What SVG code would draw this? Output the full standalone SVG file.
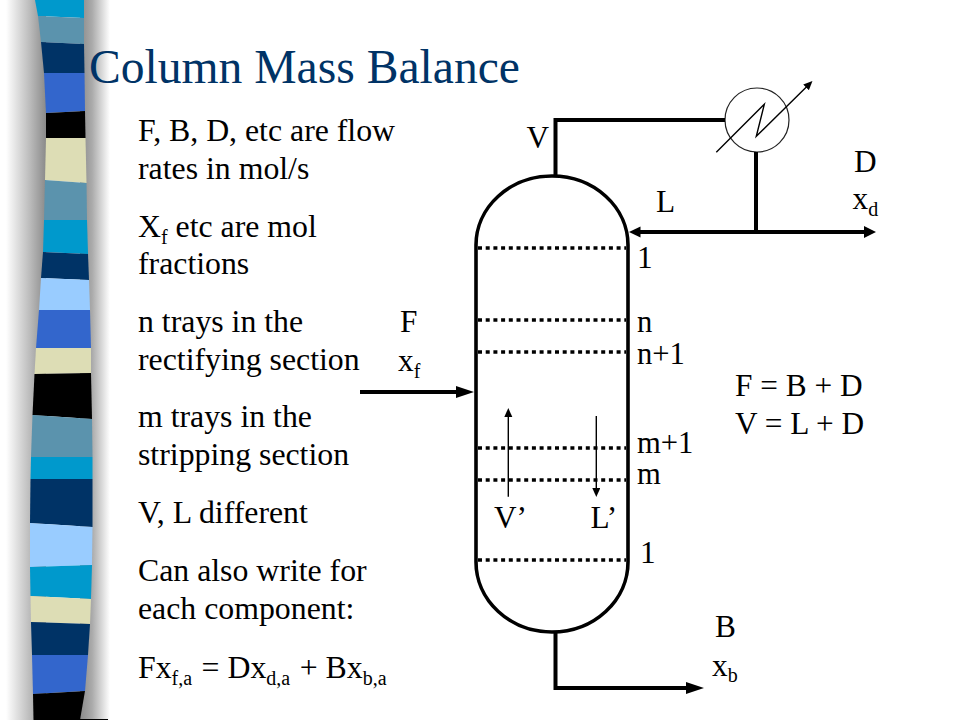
<svg xmlns="http://www.w3.org/2000/svg" width="960" height="720" viewBox="0 0 960 720">
<style>
text{font-family:"Liberation Serif","Times New Roman",serif;fill:#000;font-size:31.8px}
.title{font-size:47.6px;fill:#003366}
.lab{font-size:31.3px}
.tag{font-size:30.6px}
.sub{font-size:20px}
.pipe{fill:none;stroke:#000;stroke-width:4}
.wall{fill:none;stroke:#000;stroke-width:3.6}
.thin{fill:none;stroke:#000;stroke-width:1.4}
.tray{fill:none;stroke:#000;stroke-width:3.6;stroke-dasharray:4 3.7}
.a{fill:#5b93ad}.b{fill:#0099cc}.c{fill:#003366}.d{fill:#3366cc}.e{fill:#000}.f{fill:#ddddb5}.g{fill:#99ccff}
</style>
<defs>
<linearGradient id="shL" gradientUnits="userSpaceOnUse" x1="6" y1="0" x2="46" y2="0"><stop offset="0" stop-color="#fff"/><stop offset=".6" stop-color="#bbb"/><stop offset="1" stop-color="#8a8a8a"/></linearGradient>
<linearGradient id="shR" gradientUnits="userSpaceOnUse" x1="80" y1="0" x2="110" y2="0"><stop offset="0" stop-color="#8a8a8a"/><stop offset=".4" stop-color="#aaa"/><stop offset="1" stop-color="#fff"/></linearGradient>
<marker id="big" markerUnits="userSpaceOnUse" markerWidth="14" markerHeight="14" refX="4" refY="7" orient="auto"><path d="M0 1L12 7L0 13Z"/></marker>
<marker id="bigStart" markerUnits="userSpaceOnUse" markerWidth="14" markerHeight="14" refX="8" refY="7" orient="auto"><path d="M11.5 1.5L0 7L11.5 12.5Z"/></marker>
<marker id="feed" markerUnits="userSpaceOnUse" markerWidth="22" markerHeight="14" refX="8" refY="7" orient="auto"><path d="M0 1L18 7L0 13Z"/></marker>
<marker id="small" markerUnits="userSpaceOnUse" markerWidth="10" markerHeight="10" refX="4" refY="4" orient="auto"><path d="M0 0L9 4L0 8Z"/></marker>
</defs>
<g id="strip">
<rect x="0" y="0" width="46" height="720" fill="url(#shL)"/>
<rect x="80" y="0" width="30" height="720" fill="url(#shR)"/>
<polygon class="b" points="35,0 84,0 84,18 38,16"/>
<polygon class="a" points="38,16 84,18 84,44 41,42"/>
<polygon class="c" points="41,42 84,44 84.5,73 44,73"/>
<polygon class="d" points="44,73 84.5,73 85,111 46,113"/>
<polygon class="e" points="46,113 85,111 85.5,138 46,138"/>
<polygon class="f" points="46,138 85.5,138 86.5,183 45,180"/>
<polygon class="a" points="45,180 86.5,183 87,220 44,220"/>
<polygon class="b" points="44,220 87,220 88,254 43,252"/>
<polygon class="c" points="43,252 88,254 89,280 41,278"/>
<polygon class="g" points="41,278 89,280 90,310 39,310"/>
<polygon class="d" points="39,310 90,310 91,348 36,348"/>
<polygon class="f" points="36,348 91,348 91,373 34.5,374"/>
<polygon class="e" points="34.5,374 91,373 92,419 32.5,415"/>
<polygon class="a" points="32.5,415 92,419 92.5,457 31,457"/>
<polygon class="b" points="31,457 92.5,457 92.5,479 30.5,479"/>
<polygon class="c" points="30.5,479 92.5,479 92.5,527 30,523"/>
<polygon class="g" points="30,523 92.5,527 92,565 30,567"/>
<polygon class="b" points="30,567 92,565 91,599 30.5,596"/>
<polygon class="f" points="30.5,596 91,599 90,624 31,622"/>
<polygon class="c" points="31,622 90,624 88,655 32,655"/>
<polygon class="d" points="32,655 88,655 85,691 33,694"/>
<polygon class="e" points="33,694 85,691 80,720 33.5,720"/>
<rect x="80" y="719" width="28" height="1" fill="#000"/>
</g>
<text class="title" x="89" y="83">Column Mass Balance</text>
<g id="notes">
<text x="138" y="141">F, B, D, etc are flow</text>
<text x="138" y="178.5">rates in mol/s</text>
<text x="138" y="236.5">X<tspan class="sub" dy="7">f</tspan><tspan dy="-7"> etc are mol</tspan></text>
<text x="138" y="274">fractions</text>
<text x="138" y="332">n trays in the</text>
<text x="138" y="370">rectifying section</text>
<text x="138" y="427">m trays in the</text>
<text x="138" y="465">stripping section</text>
<text x="138" y="523">V, L different</text>
<text x="138" y="581">Can also write for</text>
<text x="138" y="619">each component:</text>
<text x="138" y="678">Fx<tspan class="sub" dy="7">f,a</tspan><tspan dy="-7" dx="1.5"> = Dx</tspan><tspan class="sub" dy="7">d,a</tspan><tspan dy="-7" dx="1.5"> + Bx</tspan><tspan class="sub" dy="7">b,a</tspan></text>
</g>
<g id="column">
<path class="wall" d="M476 245A76 69 0 0 1 628 245V562A76 70 0 0 1 476 562Z"/>
<line class="tray" x1="478" y1="248" x2="626" y2="248"/>
<line class="tray" x1="478" y1="320" x2="626" y2="320"/>
<line class="tray" x1="478" y1="352" x2="626" y2="352"/>
<line class="tray" x1="478" y1="448" x2="626" y2="448"/>
<line class="tray" x1="478" y1="480" x2="626" y2="480"/>
<line class="tray" x1="478" y1="560" x2="626" y2="560"/>
</g>
<g id="condenser">
<circle cx="757" cy="120" r="32" fill="none" stroke="#222" stroke-width="1.2"/>
<polyline class="thin" points="716.3,152.3 764.3,104.3 756.3,136.3 808.9,84.5" marker-end="url(#small)"/>
</g>
<g id="connectors">
<polyline class="pipe" points="555.5,176 555.5,120 725,120"/>
<line class="pipe" x1="756" y1="152" x2="756" y2="232"/>
<line class="pipe" x1="637" y1="232" x2="868" y2="232" marker-start="url(#bigStart)" marker-end="url(#big)"/>
<line class="pipe" x1="360" y1="392" x2="464" y2="392" marker-end="url(#feed)"/>
<polyline class="pipe" points="555.5,632 555.5,688 694,688" marker-end="url(#feed)"/>
<line class="thin" x1="508.3" y1="496.7" x2="508.3" y2="413" marker-end="url(#small)"/>
<line class="thin" x1="596.3" y1="416" x2="596.3" y2="492" marker-end="url(#small)"/>
</g>
<g id="labels">
<text class="lab" x="526.5" y="148">V</text>
<text class="lab" x="854" y="172">D</text>
<text class="lab" x="852.5" y="209">x<tspan class="sub" dy="7">d</tspan></text>
<text class="lab" x="656" y="212">L</text>
<text class="lab" x="637" y="268">1</text>
<text class="lab" x="400" y="332">F</text>
<text class="lab" x="398" y="371">x<tspan class="sub" dy="7">f</tspan></text>
<text class="tag" x="637" y="332">n</text>
<text class="tag" x="637" y="364">n+1</text>
<text class="tag" x="637" y="452.5">m+1</text>
<text class="tag" x="637" y="484">m</text>
<text class="lab" x="494" y="528">V’</text>
<text class="lab" x="590.5" y="528">L’</text>
<text class="lab" x="640" y="563">1</text>
<text class="lab" x="735" y="396">F = B + D</text>
<text class="lab" x="735" y="434">V = L + D</text>
<text class="lab" x="715" y="637">B</text>
<text class="lab" x="712" y="676">x<tspan class="sub" dy="6">b</tspan></text>
</g>
</svg>
